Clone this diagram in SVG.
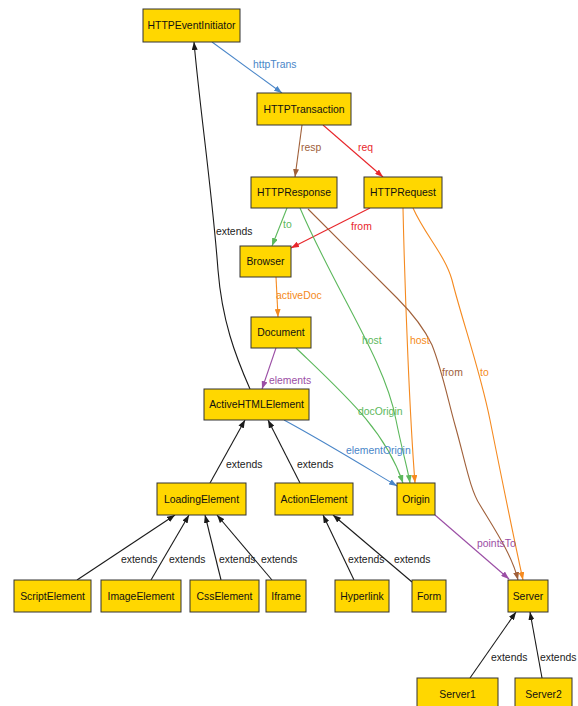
<svg xmlns="http://www.w3.org/2000/svg" width="578" height="706" viewBox="0 0 578 706">
<defs>
<style>
.n rect{fill:#ffd700;stroke:#333;stroke-width:1}
.n text{font-family:"Liberation Sans",Arial,sans-serif;font-size:10.4px;fill:#111;text-anchor:middle;dominant-baseline:central}
.e path{fill:none;stroke-width:1.1}
.l{font-family:"Liberation Sans",Arial,sans-serif;font-size:10.4px;dominant-baseline:central}
.k{stroke:#1a1a1a}.bl{stroke:#4a86c8}.rd{stroke:#e8262b}.br{stroke:#a0603a}.gr{stroke:#5cb85c}.or{stroke:#f58a20}.pu{stroke:#9b4ea5}
</style>
<marker id="mk" viewBox="0 0 8 6" refX="8" refY="3" markerWidth="8" markerHeight="6" markerUnits="userSpaceOnUse" orient="auto"><path d="M0,0L8,3L0,6z" fill="#1a1a1a"/></marker>
<marker id="mbl" viewBox="0 0 8 6" refX="8" refY="3" markerWidth="8" markerHeight="6" markerUnits="userSpaceOnUse" orient="auto"><path d="M0,0L8,3L0,6z" fill="#4a86c8"/></marker>
<marker id="mrd" viewBox="0 0 8 6" refX="8" refY="3" markerWidth="8" markerHeight="6" markerUnits="userSpaceOnUse" orient="auto"><path d="M0,0L8,3L0,6z" fill="#e8262b"/></marker>
<marker id="mbr" viewBox="0 0 8 6" refX="8" refY="3" markerWidth="8" markerHeight="6" markerUnits="userSpaceOnUse" orient="auto"><path d="M0,0L8,3L0,6z" fill="#a0603a"/></marker>
<marker id="mgr" viewBox="0 0 8 6" refX="8" refY="3" markerWidth="8" markerHeight="6" markerUnits="userSpaceOnUse" orient="auto"><path d="M0,0L8,3L0,6z" fill="#5cb85c"/></marker>
<marker id="mor" viewBox="0 0 8 6" refX="8" refY="3" markerWidth="8" markerHeight="6" markerUnits="userSpaceOnUse" orient="auto"><path d="M0,0L8,3L0,6z" fill="#f58a20"/></marker>
<marker id="mpu" viewBox="0 0 8 6" refX="8" refY="3" markerWidth="8" markerHeight="6" markerUnits="userSpaceOnUse" orient="auto"><path d="M0,0L8,3L0,6z" fill="#9b4ea5"/></marker>
</defs>
<rect width="578" height="706" fill="#fff"/>
<g id="connectors" class="e">
<path class="bl" marker-end="url(#mbl)" d="M212,42 L282,93"/>
<path class="br" marker-end="url(#mbr)" d="M302,125 L295,177"/>
<path class="rd" marker-end="url(#mrd)" d="M323,125 L383,177"/>
<path class="gr" marker-end="url(#mgr)" d="M287,208 L272,246"/>
<path class="rd" marker-end="url(#mrd)" d="M370,208 L291,248"/>
<path class="or" marker-end="url(#mor)" d="M276,277 L278,317"/>
<path class="pu" marker-end="url(#mpu)" d="M276,348 L262,389"/>
<path class="gr" marker-end="url(#mgr)" d="M300,208 C335,290 385,360 396,420 C402,450 408,470 410,483"/>
<path class="gr" marker-end="url(#mgr)" d="M296,348 C345,395 385,430 403,483"/>
<path class="bl" marker-end="url(#mbl)" d="M284,420 C330,445 370,470 397,486"/>
<path class="or" marker-end="url(#mor)" d="M403,208 C405,300 410,420 415,483"/>
<path class="br" marker-end="url(#mbr)" d="M308,209 L397,298 C415,316 425,330 432,345 C442,370 448,400 455,425 C465,460 470,490 480,505 C495,530 512,555 518,580"/>
<path class="or" marker-end="url(#mor)" d="M413,208 C425,235 445,255 452,280 C462,320 480,370 490,420 C500,470 512,530 523,580"/>
<path class="pu" marker-end="url(#mpu)" d="M435,515 L509,579"/>
<path class="k" marker-end="url(#mk)" d="M250,389 C235,355 222,320 218,270 C212,190 200,110 194,42"/>
<path class="k" marker-end="url(#mk)" d="M210,483 L245,420"/>
<path class="k" marker-end="url(#mk)" d="M300,483 L268,420"/>
<path class="k" marker-end="url(#mk)" d="M77,580 L175,515"/>
<path class="k" marker-end="url(#mk)" d="M151,580 L189,515"/>
<path class="k" marker-end="url(#mk)" d="M221,580 L205,515"/>
<path class="k" marker-end="url(#mk)" d="M272,580 L217,515"/>
<path class="k" marker-end="url(#mk)" d="M354,580 L323,515"/>
<path class="k" marker-end="url(#mk)" d="M412,582 L333,515"/>
<path class="k" marker-end="url(#mk)" d="M470,678 L516,612"/>
<path class="k" marker-end="url(#mk)" d="M542,678 L530,612"/>
<text class="l" x="253" y="64" fill="#4a86c8">httpTrans</text>
<text class="l" x="301" y="147" fill="#a0603a">resp</text>
<text class="l" x="358" y="147" fill="#e8262b">req</text>
<text class="l" x="283" y="224" fill="#5cb85c">to</text>
<text class="l" x="351" y="226" fill="#e8262b">from</text>
<text class="l" x="276" y="295" fill="#f58a20">activeDoc</text>
<text class="l" x="362" y="340" fill="#5cb85c">host</text>
<text class="l" x="410" y="340" fill="#f58a20">host</text>
<text class="l" x="269" y="380" fill="#9b4ea5">elements</text>
<text class="l" x="358" y="411" fill="#5cb85c">docOrigin</text>
<text class="l" x="346" y="450" fill="#4a86c8">elementOrigin</text>
<text class="l" x="442" y="372" fill="#a0603a">from</text>
<text class="l" x="480" y="372" fill="#f58a20">to</text>
<text class="l" x="477" y="543" fill="#9b4ea5">pointsTo</text>
<text class="l" x="216" y="231" fill="#222">extends</text>
<text class="l" x="226" y="464" fill="#222">extends</text>
<text class="l" x="297" y="464" fill="#222">extends</text>
<text class="l" x="121" y="559" fill="#222">extends</text>
<text class="l" x="169" y="559" fill="#222">extends</text>
<text class="l" x="219" y="559" fill="#222">extends</text>
<text class="l" x="261" y="559" fill="#222">extends</text>
<text class="l" x="348" y="559" fill="#222">extends</text>
<text class="l" x="394" y="559" fill="#222">extends</text>
<text class="l" x="491" y="657" fill="#222">extends</text>
<text class="l" x="540" y="657" fill="#222">extends</text>
</g>
<g id="HTTPEventInitiator" class="n"><rect x="143" y="9" width="97" height="33"/><text x="191.5" y="25.5">HTTPEventInitiator</text></g>
<g id="HTTPTransaction" class="n"><rect x="257" y="93" width="94" height="32"/><text x="304" y="109">HTTPTransaction</text></g>
<g id="HTTPResponse" class="n"><rect x="251" y="177" width="86" height="31"/><text x="294" y="192.5">HTTPResponse</text></g>
<g id="HTTPRequest" class="n"><rect x="364" y="177" width="78" height="31"/><text x="403" y="192.5">HTTPRequest</text></g>
<g id="Browser" class="n"><rect x="240" y="246" width="51" height="31"/><text x="265.5" y="261.5">Browser</text></g>
<g id="Document" class="n"><rect x="251" y="317" width="60" height="31"/><text x="281" y="332.5">Document</text></g>
<g id="ActiveHTMLElement" class="n"><rect x="204" y="389" width="105" height="31"/><text x="256.5" y="404.5">ActiveHTMLElement</text></g>
<g id="LoadingElement" class="n"><rect x="157" y="483" width="89" height="32"/><text x="201.5" y="499">LoadingElement</text></g>
<g id="ActionElement" class="n"><rect x="275" y="483" width="78" height="32"/><text x="314" y="499">ActionElement</text></g>
<g id="Origin" class="n"><rect x="397" y="483" width="38" height="32"/><text x="416" y="499">Origin</text></g>
<g id="ScriptElement" class="n"><rect x="14" y="580" width="77" height="32"/><text x="52.5" y="596">ScriptElement</text></g>
<g id="ImageElement" class="n"><rect x="101" y="580" width="80" height="32"/><text x="141" y="596">ImageElement</text></g>
<g id="CssElement" class="n"><rect x="190" y="580" width="69" height="32"/><text x="224.5" y="596">CssElement</text></g>
<g id="Iframe" class="n"><rect x="266" y="580" width="40" height="32"/><text x="286" y="596">Iframe</text></g>
<g id="Hyperlink" class="n"><rect x="335" y="580" width="54" height="32"/><text x="362" y="596">Hyperlink</text></g>
<g id="Form" class="n"><rect x="412" y="580" width="34" height="32"/><text x="429" y="596">Form</text></g>
<g id="Server" class="n"><rect x="508" y="580" width="40" height="32"/><text x="528" y="596">Server</text></g>
<g id="Server1" class="n"><rect x="417" y="678" width="81" height="32"/><text x="457.5" y="694">Server1</text></g>
<g id="Server2" class="n"><rect x="515" y="678" width="57" height="32"/><text x="543.5" y="694">Server2</text></g>
</svg>
